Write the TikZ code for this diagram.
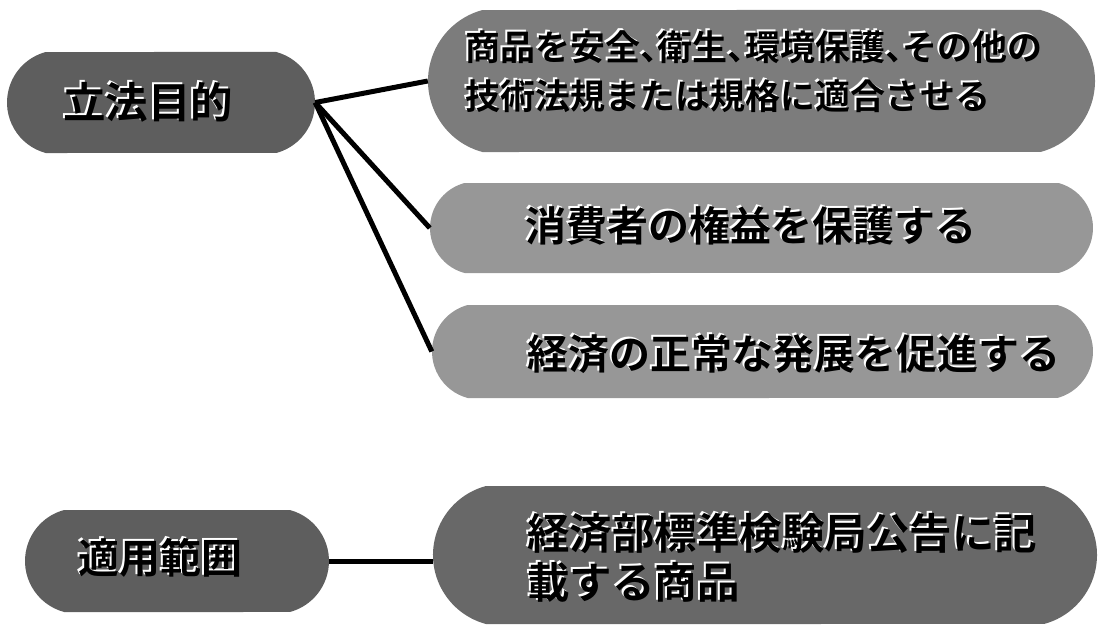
\documentclass[tikz,border=0pt]{standalone}
\usepackage{fontspec}
\newfontfamily\cjk[BoldFont={Noto Sans CJK JP Bold}]{Noto Sans CJK JP}
\usetikzlibrary{shapes.misc}
\definecolor{pilldark}{HTML}{5E5E5E}
\definecolor{pillmid}{HTML}{7C7C7C}
\definecolor{pilllight}{HTML}{979797}
\definecolor{pillfour}{HTML}{686868}
\newcommand\halotext[4]{%
  \node[txt,#3,text=white,xshift=-1.8pt,yshift=1.8pt] at (#2) {#4};%
  \node[txt,#3] (#1) at (#2) {#4};}
\newcommand\halfp{\makebox[0.5em][l]{、}}
\begin{document}
\begin{tikzpicture}[x=1pt,y=-1pt,
  pill/.style={rounded rectangle, rounded rectangle arc length=150, inner sep=0pt, draw=none},
  conn/.style={line width=5pt, black},
  txt/.style={inner sep=0pt, anchor=base west, text=black, font=\cjk\bfseries\fontsize{41}{41}\selectfont},
  smalltxt/.style={font=\cjk\bfseries\fontsize{35}{35}\selectfont},
  bigtxt/.style={font=\cjk\bfseries\fontsize{42.5}{42.5}\selectfont},
  ctr/.style={anchor=base}]
\useasboundingbox (0,0) rectangle (1098,626);
% pills
\node[pill, fill=pilldark, minimum width=308pt, minimum height=101pt] (lf) at (161,102.5) {};
\node[pill, fill=pilldark, minimum width=304pt, minimum height=102pt] (af) at (177,561) {};
\node[pill, fill=pillmid, minimum width=667pt, minimum height=142pt] (b1) at (761.5,81) {};
\node[pill, fill=pilllight, minimum width=663pt, minimum height=90pt] (b2) at (761.5,228) {};
\node[pill, fill=pilllight, minimum width=661pt, minimum height=93pt] (b3) at (762.5,351.5) {};
\node[pill, fill=pillfour, minimum width=664pt, minimum height=138pt] (b4) at (765,555) {};
% connectors
\draw[conn] (lf.east) -- (b1.west);
\draw[conn] (lf.east) -- (b2.west);
\draw[conn] (lf.east) -- (b3.west);
\draw[conn] (af.east) -- (b4.west |- af.east);
% texts
\halotext{tlf}{148,118}{ctr,bigtxt}{立法目的}
\halotext{taf}{160,573}{ctr}{適用範囲}
\halotext{tb1a}{465,60.3}{smalltxt}{商品を安全\halfp 衛生\halfp 環境保護\halfp その他の}
\halotext{tb1b}{465,109.3}{smalltxt}{技術法規または規格に適合させる}
\halotext{tb2}{525,241.6}{}{消費者の権益を保護する}
\halotext{tb3}{527,369.6}{}{経済の正常な発展を促進する}
\halotext{tb4a}{527,549.6}{bigtxt}{経済部標準検験局公告に記}
\halotext{tb4b}{527,598.6}{bigtxt}{載する商品}
\end{tikzpicture}
\end{document}
